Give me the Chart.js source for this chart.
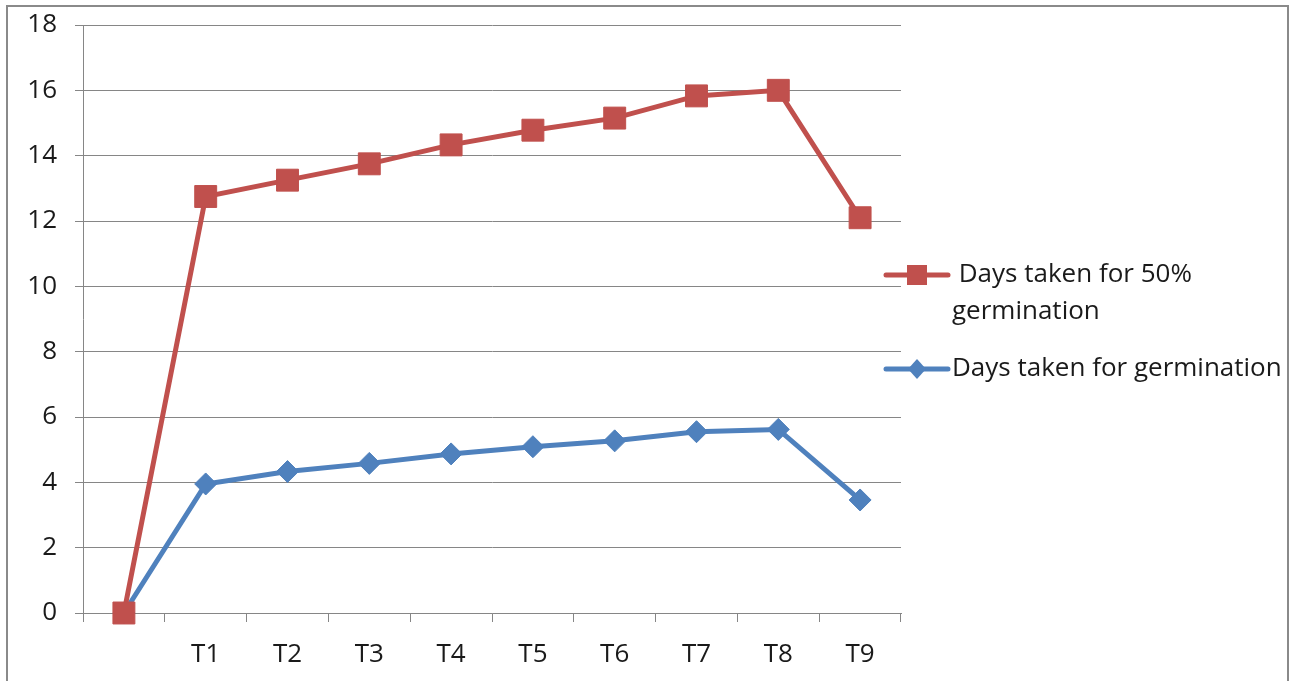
<!DOCTYPE html>
<html>
<head>
<meta charset="utf-8">
<script src="https://cdn.jsdelivr.net/npm/chart.js@4/dist/chart.umd.min.js"></script>
<style>
  html, body { margin: 0; padding: 0; background: #ffffff; }
  #wrap { width: 1292px; height: 681px; position: relative; }
</style>
</head>
<body>
<div id="wrap"><canvas id="chart" width="1292" height="681"></canvas></div>
<script>
// Treatments (first slot is the untreated start point)
const categories = ['', 'T1', 'T2', 'T3', 'T4', 'T5', 'T6', 'T7', 'T8', 'T9'];
// Days taken for 50% germination
const days50 = [0, 12.75, 13.25, 13.75, 14.33, 14.78, 15.15, 15.83, 16.0, 12.1];
// Days taken for germination
const daysGerm = [0, 3.95, 4.33, 4.58, 4.87, 5.09, 5.27, 5.55, 5.62, 3.46];
// Value axis
const yMin = 0, yMax = 18, yStep = 2;

const FONT = "'Open Sans', 'Noto Sans', sans-serif";
const RED = '#C0504D';
const BLUE = '#4F81BD';
const GRID = '#868686';
const TEXT = '#1a1a1a';

// White page with the grey frame around the chart
const framePlugin = {
  id: 'frame',
  beforeDraw(chart) {
    const ctx = chart.ctx;
    ctx.save();
    ctx.fillStyle = '#ffffff';
    ctx.fillRect(0, 0, chart.width, chart.height);
    ctx.strokeStyle = '#8a8a8a';
    ctx.lineWidth = 2;
    ctx.strokeRect(7, 6, 1281, 720);
    ctx.restore();
  }
};

// Legend to the right of the plot, wrapping long labels
const sideLegend = {
  id: 'sideLegend',
  afterDraw(chart, args, opts) {
    const ctx = chart.ctx;
    const fontSize = 26;
    const lineH = 37;
    const lineX0 = 886, lineX1 = 948, markX = 917, textX = 952;
    const maxW = 1290 - textX;
    ctx.save();
    ctx.font = fontSize + 'px ' + FONT;
    ctx.textBaseline = 'middle';
    ctx.textAlign = 'left';
    let y = opts.top;
    chart.data.datasets.forEach((ds) => {
      // word-wrap the label, keeping any leading space
      const words = ds.label.split(' ');
      const lines = [];
      let cur = null;
      words.forEach(w => {
        const test = cur === null ? w : cur + ' ' + w;
        if (cur !== null && cur.trim() !== '' && ctx.measureText(test).width > maxW) {
          lines.push(cur);
          cur = w;
        } else {
          cur = test;
        }
      });
      lines.push(cur);

      // line sample
      ctx.strokeStyle = ds.borderColor;
      ctx.lineWidth = 5;
      ctx.lineCap = 'round';
      ctx.beginPath();
      ctx.moveTo(lineX0, y);
      ctx.lineTo(lineX1, y);
      ctx.stroke();
      // marker
      ctx.fillStyle = ds.pointBackgroundColor;
      ctx.beginPath();
      if (ds.pointStyle === 'rect') {
        ctx.rect(markX - 10, y - 10, 20, 20);
      } else {
        ctx.moveTo(markX, y - 10);
        ctx.lineTo(markX + 9, y);
        ctx.lineTo(markX, y + 10);
        ctx.lineTo(markX - 9, y);
        ctx.closePath();
      }
      ctx.fill();
      // text
      ctx.fillStyle = TEXT;
      lines.forEach((ln, k) => {
        ctx.fillText(ln, textX, y + k * lineH);
      });
      y += lines.length * lineH + opts.gap;
    });
    ctx.restore();
  }
};

new Chart(document.getElementById('chart'), {
  type: 'line',
  data: {
    labels: categories,
    datasets: [
      {
        label: ' Days taken for 50% germination',
        data: days50,
        borderColor: RED,
        backgroundColor: RED,
        pointBackgroundColor: RED,
        pointBorderColor: RED,
        pointStyle: 'rect',
        pointRadius: 15.5,
        pointHoverRadius: 15.5,
        pointBorderWidth: 1,
        borderWidth: 5,
        tension: 0,
        fill: false,
        clip: false
      },
      {
        label: 'Days taken for germination',
        data: daysGerm,
        borderColor: BLUE,
        backgroundColor: BLUE,
        pointBackgroundColor: BLUE,
        pointBorderColor: BLUE,
        pointStyle: 'rectRot',
        pointRadius: 11,
        pointHoverRadius: 11,
        pointBorderWidth: 1,
        borderWidth: 5,
        tension: 0,
        fill: false,
        clip: false
      }
    ]
  },
  options: {
    responsive: false,
    animation: false,
    events: [],
    layout: { padding: { top: 25, right: 391, bottom: 0, left: 0 } },
    plugins: {
      legend: { display: false },
      tooltip: { enabled: false },
      title: { display: false },
      sideLegend: { top: 275, gap: 20 }
    },
    scales: {
      x: {
        type: 'category',
        offset: true,
        afterFit(scale) {
          scale.height = 68;
          scale.paddingLeft = 0;
          scale.paddingRight = 0;
        },
        grid: {
          offset: true,
          drawOnChartArea: false,
          drawTicks: true,
          tickLength: 9,
          color: GRID,
          lineWidth: 1
        },
        border: { display: true, color: GRID, width: 1 },
        ticks: {
          color: TEXT,
          font: { family: FONT, size: 26 },
          padding: 17,
          maxRotation: 0,
          autoSkip: false
        }
      },
      y: {
        min: yMin,
        max: yMax,
        afterFit(scale) {
          scale.width = 83;
          scale.paddingTop = 0;
          scale.paddingBottom = 0;
        },
        grid: {
          color: GRID,
          lineWidth: 1,
          drawTicks: true,
          tickLength: 8
        },
        border: { display: true, color: GRID, width: 1 },
        ticks: {
          stepSize: yStep,
          color: TEXT,
          font: { family: FONT, size: 26 },
          padding: 18
        }
      }
    }
  },
  plugins: [framePlugin, sideLegend]
});
</script>
</body>
</html>
